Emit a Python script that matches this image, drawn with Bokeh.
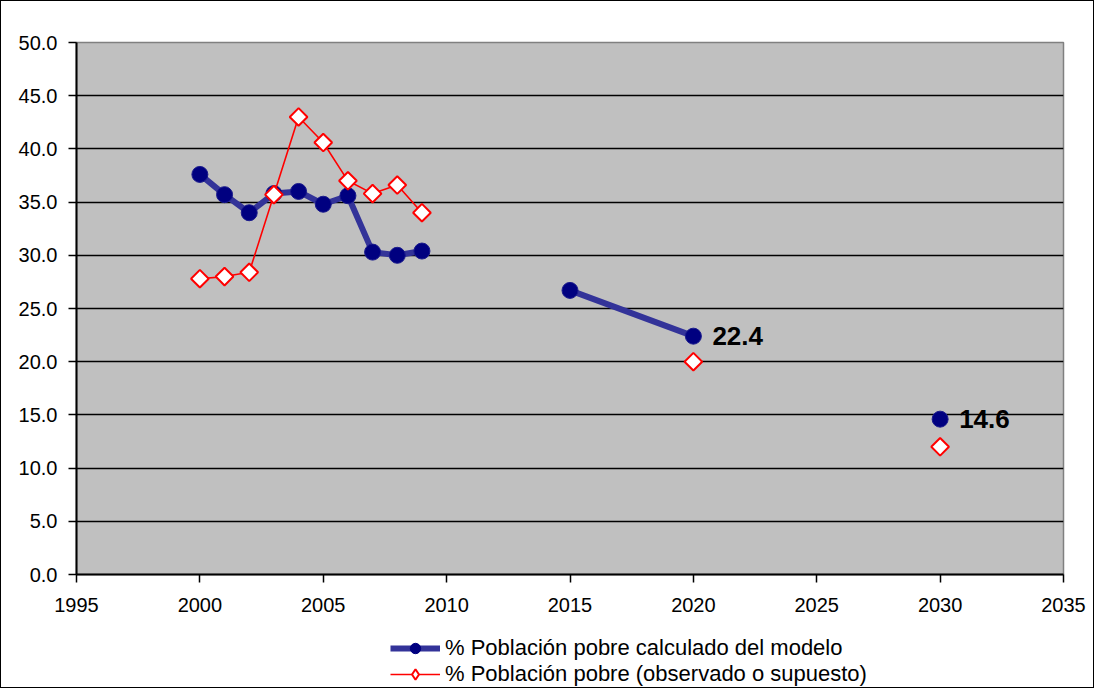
from bokeh.plotting import figure
from bokeh.layouts import column
from bokeh.models import Range1d, FixedTicker, Legend, LegendItem, ColumnDataSource, CustomJSTickFormatter
from bokeh.core.properties import value
from bokeh.embed import file_html
from bokeh.resources import INLINE
import numpy as np

nan = float("nan")

# Data
years_model = [2000, 2001, 2002, 2003, 2004, 2005, 2006, 2007, 2008, 2009, None, 2015, 2020, None, 2030]
pct_model = [37.6, 35.7, 34.0, 35.8, 36.0, 34.8, 35.6, 30.3, 30.0, 30.4, None, 26.7, 22.4, None, 14.6]
years_obs = [2000, 2001, 2002, 2003, 2004, 2005, 2006, 2007, 2008, 2009, None, 2020, None, 2030]
pct_obs = [27.8, 28.0, 28.4, 35.7, 43.0, 40.6, 37.0, 35.8, 36.6, 34.0, None, 20.0, None, 12.0]
label_years = [2020, 2030]
label_values = [22.4, 14.6]
series_names = ["% Población pobre calculado del modelo",
                "% Población pobre (observado o supuesto)"]
x_ticks = [1995, 2000, 2005, 2010, 2015, 2020, 2025, 2030, 2035]
y_ticks = [0, 5, 10, 15, 20, 25, 30, 35, 40, 45, 50]

def arr(v):
    return np.array([nan if a is None else a for a in v], dtype=float)

FONT = "Liberation Sans"
BLUE_LINE, BLUE_DOT, RED = "#333399", "#000080", "#FF0000"

p = figure(width=1092, height=623, output_backend="svg", toolbar_location=None,
           x_range=Range1d(1995, 2035), y_range=Range1d(0, 50),
           min_border_left=75, min_border_right=30, min_border_top=41, min_border_bottom=50,
           background_fill_color="#C0C0C0", border_fill_color="white")

p.outline_line_color = "#808080"
p.outline_line_width = 1.5

p.xgrid.grid_line_color = None
p.ygrid.grid_line_color = "black"
p.ygrid.grid_line_width = 1.5
p.ygrid.ticker = FixedTicker(ticks=y_ticks)

p.xaxis.ticker = FixedTicker(ticks=x_ticks)
p.yaxis.ticker = FixedTicker(ticks=y_ticks)
p.yaxis.formatter = CustomJSTickFormatter(code="return tick.toFixed(1);")
p.xaxis.formatter = CustomJSTickFormatter(code="return tick.toFixed(0);")

for ax in (p.xaxis[0], p.yaxis[0]):
    ax.axis_line_color = "black"
    ax.axis_line_width = 2
    ax.major_tick_line_color = "black"
    ax.major_tick_line_width = 1.5
    ax.major_tick_in = 0
    ax.major_tick_out = 8
    ax.minor_tick_line_color = None
    ax.major_label_text_font = FONT
    ax.major_label_text_font_size = "20px"
    ax.major_label_text_color = "black"
p.yaxis.major_label_standoff = 11
p.xaxis.major_label_standoff = 15

xm, ym = arr(years_model), arr(pct_model)
xo, yo = arr(years_obs), arr(pct_obs)

p.line(xm, ym, line_color=BLUE_LINE, line_width=6)
p.scatter(xm, ym, marker="circle", size=16, fill_color=BLUE_DOT, line_color="#1a1a8c", line_width=1)
p.line(xo, yo, line_color=RED, line_width=1.6)
p.scatter(xo, yo, marker="square", angle=np.pi / 4, size=12.5, fill_color="white",
          line_color=RED, line_width=2)

src = ColumnDataSource(dict(x=label_years, y=label_values, t=[f"{v:.1f}" for v in label_values]))
p.text(x="x", y="y", text="t", source=src, x_offset=19, text_baseline="middle", text_align="left",
       text_font=value(FONT), text_font_size="26px", text_font_style="bold", text_color="black")

# Legend strip below the chart (legend-only renderers hold no drawable points)
pl = figure(width=1092, height=63, output_backend="svg", toolbar_location=None,
            x_range=Range1d(0, 1), y_range=Range1d(0, 1), x_axis_type=None, y_axis_type=None,
            min_border=0, border_fill_color="white", background_fill_color="white")
pl.outline_line_color = None
pl.grid.visible = False
def empty():
    return ColumnDataSource(dict(x=[nan], y=[nan]))
g1 = pl.line(x="x", y="y", source=empty(), line_color=BLUE_LINE, line_width=6)
g1b = pl.scatter(x="x", y="y", source=empty(), marker="circle", fill_color=BLUE_DOT,
                 line_color=BLUE_DOT)
g2 = pl.line(x="x", y="y", source=empty(), line_color=RED, line_width=1.6)
g2b = pl.scatter(x="x", y="y", source=empty(), marker="diamond", fill_color="white",
                 line_color=RED, line_width=2)

legend = Legend(items=[LegendItem(label=series_names[0], renderers=[g1, g1b]),
                       LegendItem(label=series_names[1], renderers=[g2, g2b])],
                location=(314, 0), orientation="vertical",
                glyph_width=50, glyph_height=26, label_height=22,
                spacing=0, padding=0, margin=0,
                label_standoff=5, label_text_font=FONT, label_text_font_size="22px",
                label_text_color="black", border_line_color=None, background_fill_alpha=0)
pl.add_layout(legend, "center")

layout = column(p, pl, spacing=0, styles={"border": "1px solid black"})

open("out.html", "w").write(file_html(layout, INLINE))
